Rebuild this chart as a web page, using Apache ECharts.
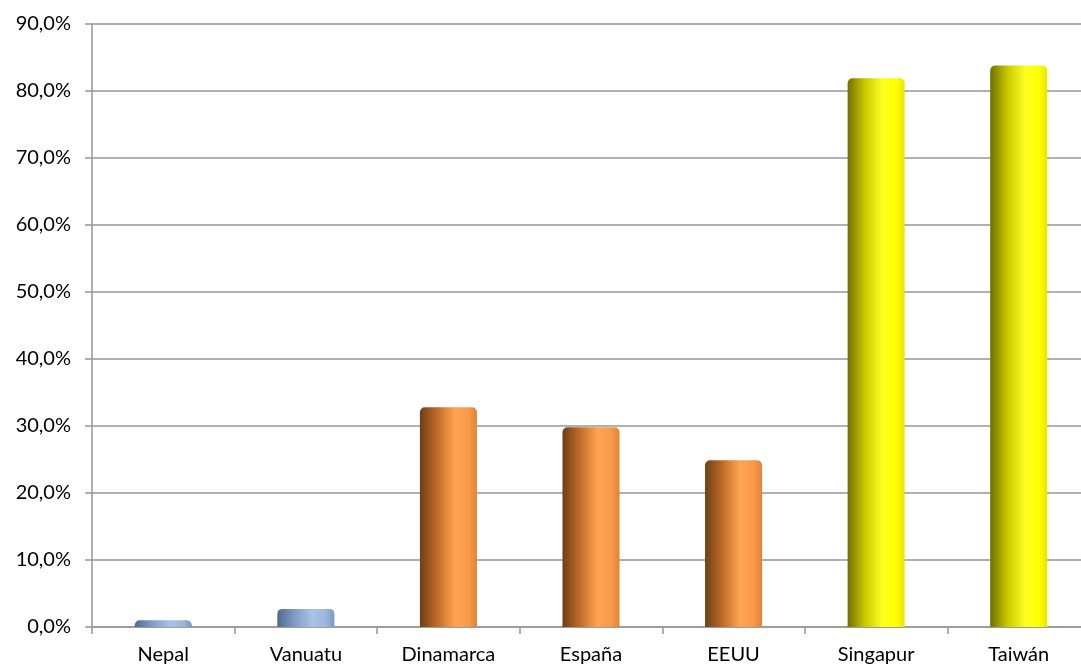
<!DOCTYPE html>
<html>
<head>
<meta charset="utf-8">
<script src="https://cdn.jsdelivr.net/npm/echarts@6/dist/echarts.min.js"></script>
<style>
  html, body { margin: 0; padding: 0; background: #ffffff; overflow: hidden; }
  #chart { width: 1081px; height: 668px; }
</style>
</head>
<body>
<div id="chart"></div>
<script>
// Country categories and their share (percent)
const categories = ['Nepal', 'Vanuatu', 'Dinamarca', 'España', 'EEUU', 'Singapur', 'Taiwán'];
const values = [1.0, 2.7, 32.8, 29.8, 24.9, 81.9, 83.8];
// Colour group of each bar: 0 = blue, 1 = orange, 2 = yellow
const groups = [0, 0, 1, 1, 1, 2, 2];
const yTicks = { min: 0, max: 90, interval: 10 };

// Cylinder-like horizontal shading per colour group
const palettes = [
  [['#4f6b8f', 0], ['#7f9cc4', 0.3], ['#a9c3e6', 0.62], ['#9ab6dc', 0.85], ['#7c98c0', 1]],
  [['#6e3f15', 0], ['#c06a28', 0.3], ['#ffa552', 0.62], ['#f89a48', 0.85], ['#e2833a', 1]],
  [['#6f6f00', 0], ['#c8c800', 0.3], ['#ffff22', 0.62], ['#ffff00', 0.85], ['#e6e600', 1]]
];
function shade(g) {
  return new echarts.graphic.LinearGradient(0, 0, 1, 0,
    palettes[g].map(([c, o]) => ({ offset: o, color: c })));
}

const chart = echarts.init(document.getElementById('chart'), null, { renderer: 'canvas' });
const font = 'Lato, Open Sans, sans-serif';
const axisGray = '#969696';

chart.setOption({
  animation: false,
  backgroundColor: '#ffffff',
  // plot runs past the right edge of the page
  grid: {
    left: 92, width: 998, top: 24, bottom: 41,
    containLabel: false, outerBoundsMode: 'none'
  },
  xAxis: {
    type: 'category',
    data: categories,
    boundaryGap: true,
    axisLine: { lineStyle: { color: axisGray, width: 1.5 } },
    axisTick: { show: true, length: 7, lineStyle: { color: axisGray, width: 1.5 } },
    axisLabel: { color: '#000000', fontSize: 20, fontFamily: font, margin: 18 }
  },
  yAxis: {
    type: 'value',
    min: yTicks.min,
    max: yTicks.max,
    interval: yTicks.interval,
    axisLine: { show: true, lineStyle: { color: axisGray, width: 1.5 } },
    axisTick: { show: true, length: 7, lineStyle: { color: axisGray, width: 1.5 } },
    splitLine: { show: true, lineStyle: { color: axisGray, width: 1.5 } },
    axisLabel: {
      color: '#000000', fontSize: 20, fontFamily: font, margin: 21,
      formatter: v => v.toFixed(1).replace('.', ',') + '%'
    }
  },
  series: [{
    type: 'bar',
    barWidth: '40%',
    data: values.map((v, i) => ({
      value: v,
      itemStyle: { color: shade(groups[i]), borderRadius: [5, 5, 0, 0] }
    }))
  }]
});
</script>
</body>
</html>
